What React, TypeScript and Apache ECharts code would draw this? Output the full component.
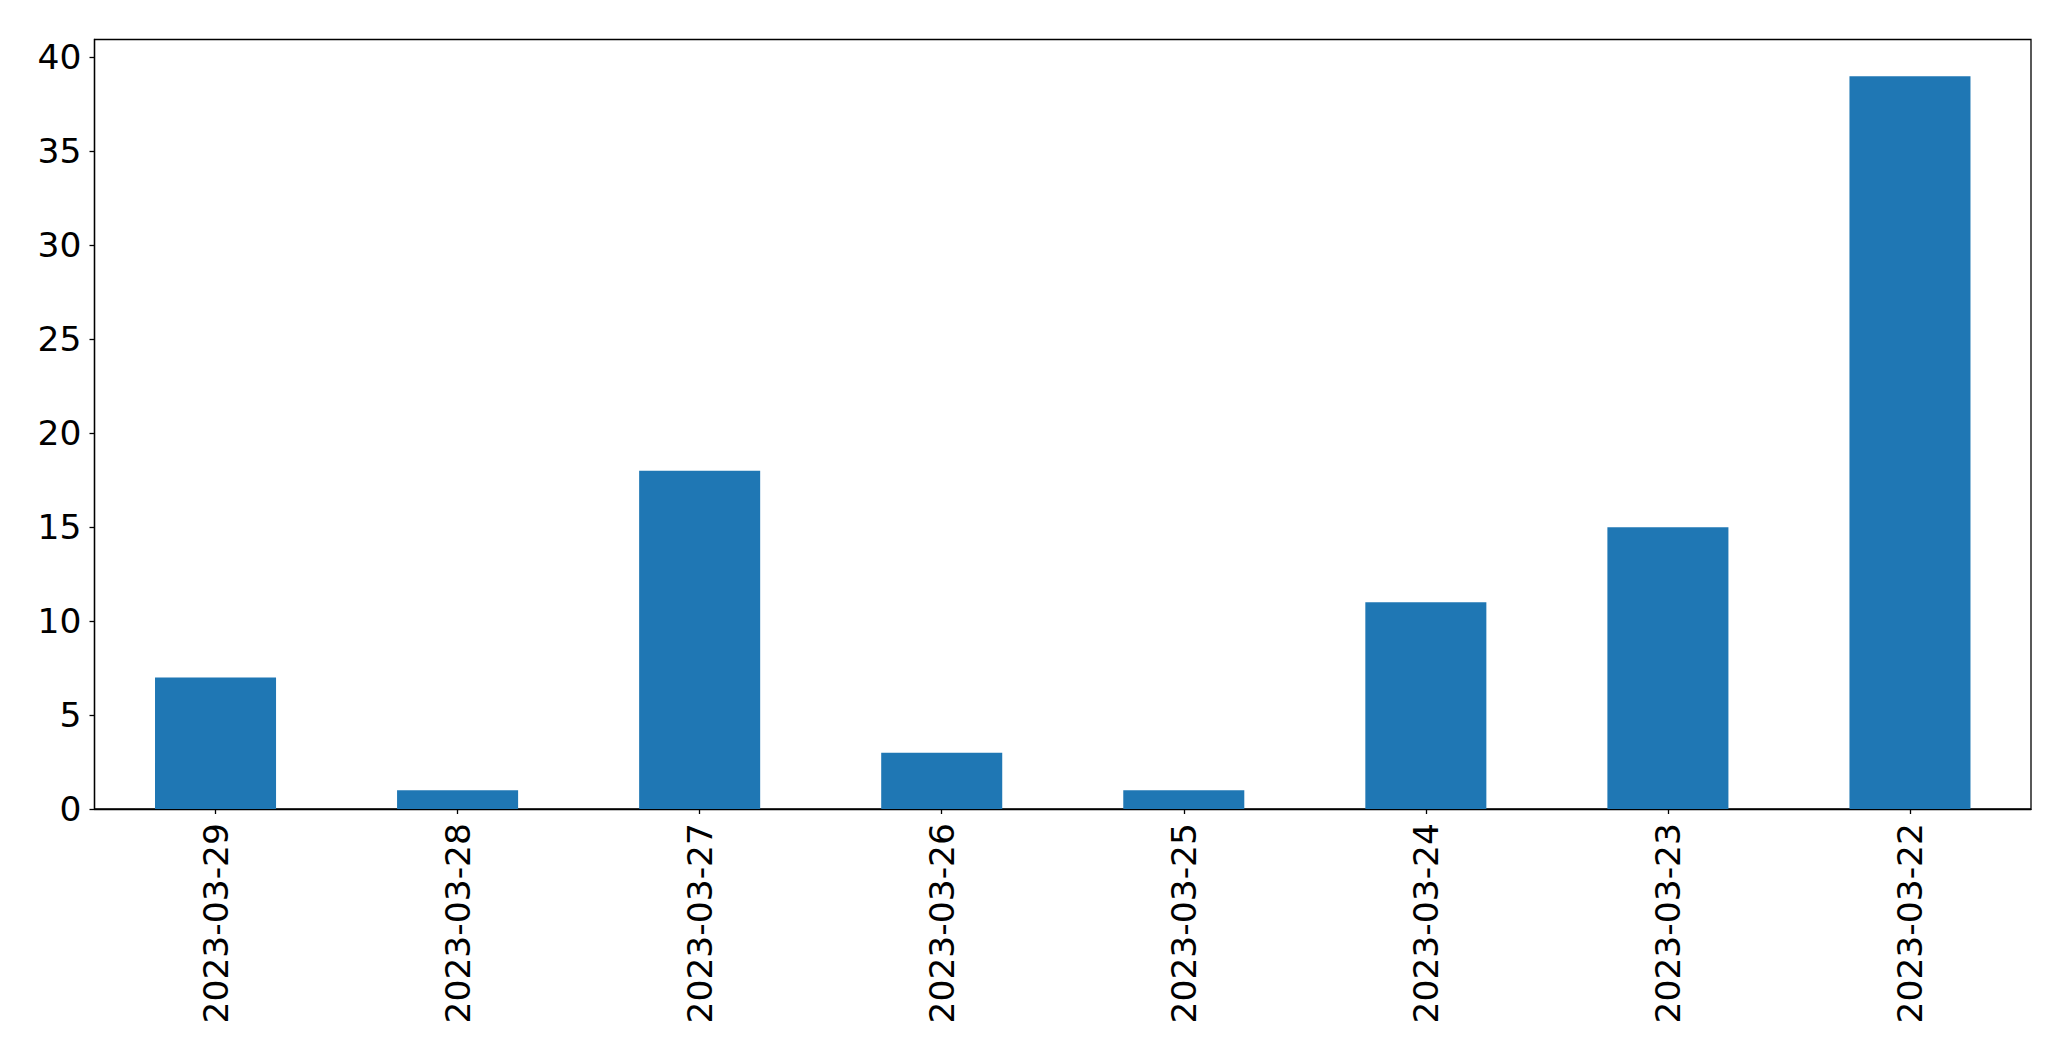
import React, { useEffect, useRef } from "react";
import * as echarts from "echarts";

const categories = [
  "2023-03-29",
  "2023-03-28",
  "2023-03-27",
  "2023-03-26",
  "2023-03-25",
  "2023-03-24",
  "2023-03-23",
  "2023-03-22",
];
const values = [7, 1, 18, 3, 1, 11, 15, 39];
const yTicks = [0, 5, 10, 15, 20, 25, 30, 35, 40];
const yMax = 40.95;

export default function App() {
  const ref = useRef<HTMLDivElement>(null);
  useEffect(() => {
    document.body.style.margin = "0";
    if (!ref.current) return;
    const chart = echarts.init(ref.current, null, { renderer: "svg" });
    const font = "DejaVu Sans";
    chart.setOption({
      animation: false,
      backgroundColor: "#ffffff",
      grid: {
        left: 94.5,
        top: 39.5,
        right: 40,
        bottom: 252,
        show: true,
        borderColor: "#000000",
        borderWidth: 1.3,
        backgroundColor: "transparent",
      },
      xAxis: {
        type: "category",
        data: categories,
        boundaryGap: true,
        axisLine: { show: true, lineStyle: { color: "#000", width: 1.3 } },
        axisTick: { show: true, alignWithLabel: true, length: 5, lineStyle: { color: "#000", width: 1.3 } },
        axisLabel: {
          interval: 0,
          rotate: 90,
          margin: 14,
          fontSize: 34.5,
          fontFamily: font,
          color: "#000",
        },
        splitLine: { show: false },
      },
      yAxis: {
        type: "value",
        min: 0,
        max: yMax,
        interval: 5,
        axisLine: { show: true, lineStyle: { color: "#000", width: 1.3 } },
        axisTick: {
          show: true,
          length: 5,
          lineStyle: { color: "#000", width: 1.3 },
          customValues: yTicks,
        },
        axisLabel: {
          margin: 13,
          fontSize: 34.5,
          fontFamily: font,
          color: "#000",
          customValues: yTicks,
        },
        splitLine: { show: false },
      },
      series: [
        {
          type: "bar",
          data: values,
          barWidth: "50%",
          itemStyle: { color: "#1f77b4" },
        },
      ],
    });
    return () => chart.dispose();
  }, []);
  return (
    <div
      ref={ref}
      style={{ position: "absolute", left: 0, top: 0, width: 2071, height: 1061 }}
    />
  );
}
